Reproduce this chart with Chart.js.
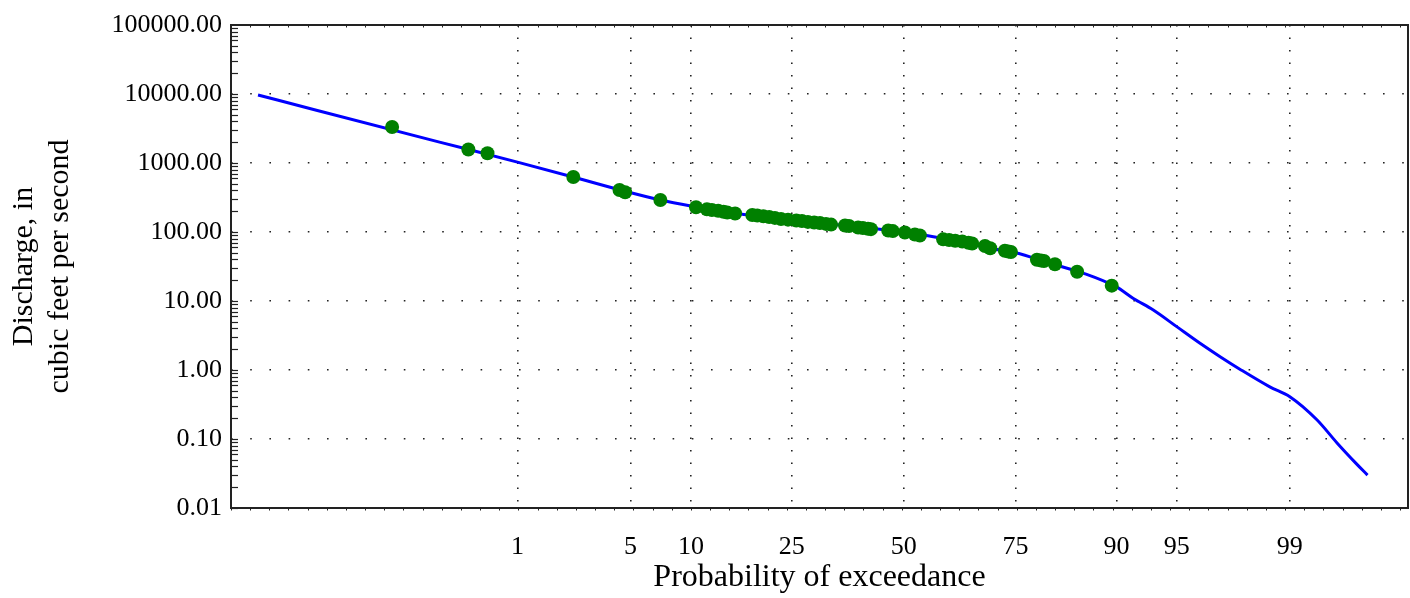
<!DOCTYPE html>
<html><head><meta charset="utf-8">
<script src="https://cdn.jsdelivr.net/npm/chart.js@4.4.1/dist/chart.umd.min.js"></script>
<style>html,body{margin:0;padding:0;background:#fff;}canvas{display:block;}</style>
</head><body>
<canvas id="c" width="1410" height="598"></canvas>
<script>
// ---- data (exceedance probability in percent, discharge in cfs) ----
const tickPercents = [1, 5, 10, 25, 50, 75, 90, 95, 99];
const yTickValues = [0.01, 0.1, 1, 10, 100, 1000, 10000, 100000];
const xLimitPercents = [0.00254, 99.881];

const curvePercent = [0.00503, 0.0202, 0.259, 1, 2.32, 4.49, 7.12, 10, 15.5, 25, 50, 57.1, 64.8, 71.9, 75, 81.1, 86.1, 90, 91.68, 93.37, 95, 96.29, 97.17, 97.87, 98.63, 99, 99.36, 99.55, 99.68, 99.74];
const curveDischarge = [9690, 5820, 2010, 1030, 627, 400, 291, 238, 187, 149, 100, 85.5, 68.6, 54.8, 50, 35.2, 25.2, 16.0, 10.9, 7.4, 4.25, 2.44, 1.56, 1.02, 0.57, 0.41, 0.19, 0.087, 0.044, 0.030];

const pointPercent = [0.103, 0.437, 0.609, 2.33, 4.35, 4.67, 7.14,
  10.55, 11.8, 12.4, 13.2, 13.9, 14.4, 15.5,
  18.1, 18.9, 19.9, 20.9, 21.9, 23.0, 24.3, 25.9, 27.0, 28.2, 29.5, 30.7, 32.0, 33.1,
  36.2, 37.1, 39.2, 40.3, 41.5, 42.2,
  46.3, 47.4, 50.3, 52.7, 53.9,
  59.4, 60.8, 62.2, 63.8, 65.2, 66.0, 68.8, 69.9, 72.9, 73.6, 74.1,
  78.9, 79.6, 80.1, 81.9, 85.2, 89.5];
const pointDischarge = [3325, 1570, 1384, 627, 406, 377, 291,
  228, 213, 208, 203, 196, 192, 185,
  176, 173, 169, 165, 160, 154, 151, 147, 144, 140, 137, 135, 131, 128,
  124, 122, 116, 114, 111, 110,
  105, 103, 98.4, 92, 89,
  78.3, 76.5, 74.8, 72.8, 70.0, 68.1, 62.7, 58.0, 53.6, 52.2, 51.3,
  39.7, 38.7, 38.0, 34.1, 26.6, 16.7];

// normal quantile (probability axis transform)
function probit(p){
  const a=[-3.969683028665376e+01,2.209460984245205e+02,-2.759285104469687e+02,1.383577518672690e+02,-3.066479806614716e+01,2.506628277459239e+00];
  const b=[-5.447609879822406e+01,1.615858368580409e+02,-1.556989798598866e+02,6.680131188771972e+01,-1.328068155288572e+01];
  const c=[-7.784894002430293e-03,-3.223964580411365e-01,-2.400758277161838e+00,-2.549732539343734e+00,4.374664141464968e+00,2.938163982698783e+00];
  const d=[7.784695709041462e-03,3.224671290700398e-01,2.445134137142996e+00,3.754408661907416e+00];
  const pl=0.02425, ph=1-pl; let q,r;
  if(p<pl){q=Math.sqrt(-2*Math.log(p));return (((((c[0]*q+c[1])*q+c[2])*q+c[3])*q+c[4])*q+c[5])/((((d[0]*q+d[1])*q+d[2])*q+d[3])*q+1);}
  if(p<=ph){q=p-0.5;r=q*q;return (((((a[0]*r+a[1])*r+a[2])*r+a[3])*r+a[4])*r+a[5])*q/(((((b[0]*r+b[1])*r+b[2])*r+b[3])*r+b[4])*r+1);}
  q=Math.sqrt(-2*Math.log(1-p));return -(((((c[0]*q+c[1])*q+c[2])*q+c[3])*q+c[4])*q+c[5])/((((d[0]*q+d[1])*q+d[2])*q+d[3])*q+1);
}
const zOf = pct => probit(pct/100);

const curveData = curvePercent.map((p,i)=>({x: zOf(p), y: curveDischarge[i]}));
const pointData = pointPercent.map((p,i)=>({x: zOf(p), y: pointDischarge[i]}));

const framePlugin = {
  id: 'frame',
  afterDraw(chart){
    const {ctx, chartArea:{left,right,top,bottom}} = chart;
    const ys = chart.scales.y;
    ctx.save();
    ctx.strokeStyle = '#222';
    ctx.lineWidth = 1.2;
    for (let k = -2; k < 5; k++) {
      for (let n = 1; n <= 9; n++) {
        const v = n * Math.pow(10, k);
        const py = Math.round(ys.getPixelForValue(v)) + 0.5;
        ctx.beginPath(); ctx.moveTo(left, py); ctx.lineTo(left + 7, py); ctx.stroke();
      }
    }
    const n = 61, step = (right - 8 - left) / n;
    ctx.lineWidth = 1;
    for (let i = 0; i <= n; i++) {
      const px = Math.round(left + i * step) + 0.5;
      ctx.beginPath(); ctx.moveTo(px, top); ctx.lineTo(px, top + 2.5); ctx.stroke();
      ctx.beginPath(); ctx.moveTo(px, bottom); ctx.lineTo(px, bottom + 2.5); ctx.stroke();
    }
    ctx.lineWidth = 2;
    ctx.strokeRect(left, top, right - left, bottom - top);
    ctx.restore();
  }
};

Chart.defaults.font.family = "'Liberation Serif', 'Times New Roman', serif";
Chart.defaults.color = '#000';

new Chart(document.getElementById('c'), {
  type: 'scatter',
  data: {
    datasets: [
      { label: 'Observed', data: pointData, showLine: false, pointRadius: 7, pointHoverRadius: 7,
        backgroundColor: '#008000', borderColor: '#008000', borderWidth: 0, order: 0 },
      { label: 'Duration curve', data: curveData, showLine: true, pointRadius: 0, borderColor: '#0000ff',
        borderWidth: 3, cubicInterpolationMode: 'monotone', fill: false, order: 1 }
    ]
  },
  options: {
    responsive: false,
    animation: false,
    devicePixelRatio: 1,
    layout: { autoPadding: false, padding: { left: 0, right: 2, top: 25, bottom: 0 } },
    plugins: { legend: { display: false }, tooltip: { enabled: false } },
    scales: {
      x: {
        type: 'linear',
        min: zOf(xLimitPercents[0]), max: zOf(xLimitPercents[1]),
        afterBuildTicks: s => { s.ticks = tickPercents.map(p => ({ value: zOf(p) })); },
        afterFit: s => { s.height = 90; s.paddingLeft = 0; s.paddingRight = 0; },
        ticks: { callback: (v, i) => String(tickPercents[i]), font: { size: 26 }, color: '#000',
                 padding: 24, maxRotation: 0, autoSkip: false },
        grid: { color: '#222', lineWidth: 1.6, drawTicks: false },
        border: { display: false, dash: [1.6, 10.9] },
        title: { display: true, text: 'Probability of exceedance', font: { size: 32, lineHeight: 1.1 },
                 color: '#000', padding: { top: 0, bottom: 3 } }
      },
      y: {
        type: 'logarithmic',
        min: 0.01, max: 100000,
        afterBuildTicks: s => { s.ticks = yTickValues.map(v => ({ value: v })); },
        afterFit: s => { s.width = 231; },
        ticks: { callback: v => Number(v).toFixed(2), font: { size: 26 }, color: '#000', padding: 9, autoSkip: false },
        grid: { color: c => (c.index === 0 || c.index === yTickValues.length - 1) ? 'rgba(0,0,0,0)' : '#222',
                lineWidth: 1.6, drawTicks: false },
        border: { display: false, dash: [1.6, 17.6] },
        title: { display: true, text: ['Discharge, in', 'cubic feet per second'], font: { size: 30, lineHeight: 1.2 },
                 color: '#000', padding: { top: 6, bottom: 0 } }
      }
    }
  },
  plugins: [framePlugin]
});
</script>
</body></html>
